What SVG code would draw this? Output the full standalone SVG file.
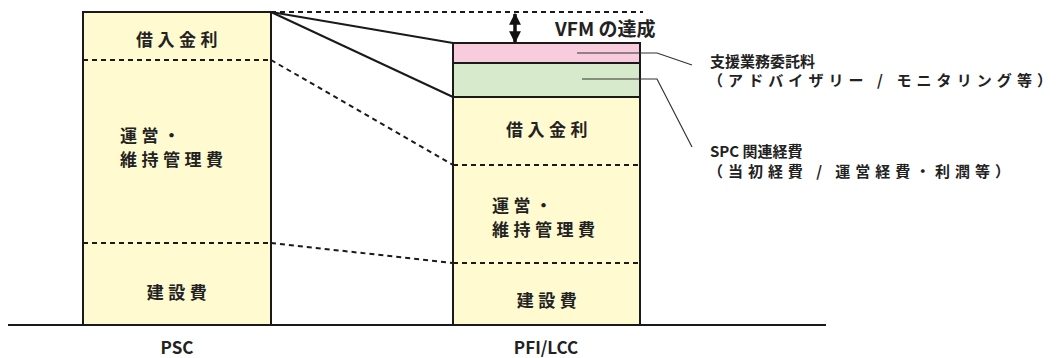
<svg xmlns="http://www.w3.org/2000/svg" width="1056" height="358" viewBox="0 0 1056 358">
<style>
.t{font-family:"Noto Sans CJK JP","Noto Sans",sans-serif;font-weight:bold;fill:#222}
.b{font-size:17px;letter-spacing:4.5px}
.s{font-size:15px}
.box{stroke:#1a1a1a;stroke-width:2}
.dash{stroke:#1a1a1a;stroke-width:2;stroke-dasharray:5 4;fill:none}
.solid{stroke:#1a1a1a;stroke-width:2;fill:none}
.lead{stroke:#333;stroke-width:1.2;fill:none}
</style>
<defs>
<marker id="ah" viewBox="0 0 10 10" refX="9" refY="5" markerWidth="3.4" markerHeight="3.4" orient="auto-start-reverse">
<path d="M0,0 L10,5 L0,10 z" fill="#111"/>
</marker>
</defs>
<rect width="1056" height="358" fill="#fff"/>
<g id="psc">
<rect x="83" y="12" width="188" height="313" fill="#FFFAD0" class="box"/>
<line x1="83" y1="60" x2="271" y2="60" class="dash"/>
<line x1="83" y1="243" x2="271" y2="243" class="dash"/>
<text x="179" y="46" class="t b" text-anchor="middle">借入金利</text>
<text x="120" y="142" class="t b">運営・</text>
<text x="120" y="166" class="t b">維持管理費</text>
<text x="179" y="299" class="t b" text-anchor="middle">建設費</text>
<text x="177" y="354" class="t" font-size="17" text-anchor="middle">PSC</text>
</g>
<g id="pfi">
<rect x="453" y="43" width="187" height="20" fill="#F8CCDC" class="box"/>
<rect x="453" y="63" width="187" height="34" fill="#D8EACC" class="box"/>
<rect x="453" y="97" width="187" height="228" fill="#FFFAD0" class="box"/>
<line x1="453" y1="165" x2="640" y2="165" class="dash"/>
<line x1="453" y1="263" x2="640" y2="263" class="dash"/>
<text x="549" y="136" class="t b" text-anchor="middle">借入金利</text>
<text x="492" y="212" class="t b">運営・</text>
<text x="492" y="236" class="t b">維持管理費</text>
<text x="549" y="307" class="t b" text-anchor="middle">建設費</text>
<text x="546" y="354" class="t" font-size="17" text-anchor="middle">PFI/LCC</text>
</g>
<g id="vfm">
<text x="555" y="36" class="t" font-size="19">VFM の達成</text>
</g>
<g id="label-support">
<text x="710" y="67" class="t s">支援業務委託料</text>
<text x="708" y="86" class="t s" textLength="344" lengthAdjust="spacing">（アドバイザリー / モニタリング等）</text>
</g>
<g id="label-spc">
<text x="710" y="157" class="t s">SPC 関連経費</text>
<text x="708" y="177" class="t s" textLength="302" lengthAdjust="spacing">（当初経費 / 運営経費・利潤等）</text>
</g>
<g id="connectors">
<line x1="8" y1="325" x2="826" y2="325" class="solid"/>
<line x1="271" y1="12" x2="643" y2="12" class="dash"/>
<line x1="271" y1="12" x2="453" y2="43" class="solid"/>
<line x1="271" y1="12" x2="453" y2="97" class="solid"/>
<line x1="271" y1="60" x2="453" y2="165" class="dash"/>
<line x1="271" y1="243" x2="453" y2="263" class="dash"/>
<line x1="515" y1="14" x2="515" y2="42" stroke="#111" stroke-width="3.5" marker-start="url(#ah)" marker-end="url(#ah)"/>
<polyline points="577,53 657,53 692,65" class="lead"/>
<polyline points="582,79 657,79 692,147" class="lead"/>
</g>
</svg>
